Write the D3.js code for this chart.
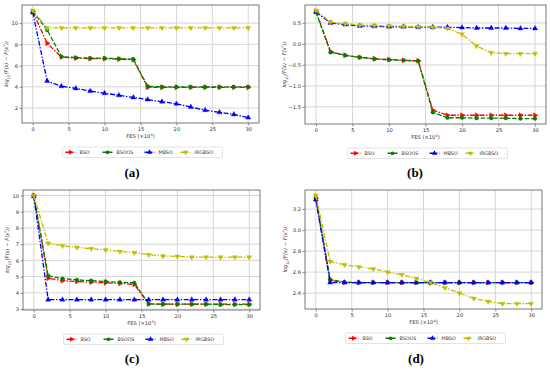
<!DOCTYPE html>
<html><head><meta charset="utf-8">
<script src="https://cdn.jsdelivr.net/npm/d3@7"></script>
<style>body{margin:0;background:#fff}svg{display:block}</style>
</head><body><svg id="c" width="550" height="371"></svg>
<script>
// ---------- data ----------
const fes = [0,2,4,6,8,10,12,14,16,18,20,22,24,26,28,30];
const seriesNames = ["BSO","BSOOS","MBSO","IRGBSO"];
const xTicks = [0,5,10,15,20,25,30];
const captions = ["(a)","(b)","(c)","(d)"];
const xLabelPowers = ["5","5","5","4"];

// panel (a)
const aBSO    = [11.1,8.1,6.8,6.7,6.65,6.65,6.6,6.55,3.95,3.95,3.95,3.95,3.95,3.95,3.95,3.95];
const aBSOOS  = [11.1,9.35,6.85,6.75,6.7,6.7,6.65,6.6,4.05,4.0,4.0,4.0,4.0,4.0,4.0,4.0];
const aMBSO   = [11.0,4.55,4.05,3.85,3.6,3.4,3.2,3.0,2.8,2.6,2.4,2.1,1.8,1.6,1.4,1.1];
const aIRGBSO = [11.2,9.55,9.55,9.55,9.55,9.55,9.55,9.55,9.55,9.55,9.55,9.55,9.55,9.55,9.55,9.55];
const yTicksA = [2,4,6,8,10];

// panel (b)
const bBSO    = [0.78,-0.18,-0.27,-0.32,-0.35,-0.37,-0.39,-0.40,-1.58,-1.70,-1.70,-1.70,-1.70,-1.70,-1.70,-1.70];
const bBSOOS  = [0.76,-0.20,-0.27,-0.32,-0.36,-0.38,-0.39,-0.41,-1.63,-1.76,-1.76,-1.77,-1.77,-1.77,-1.78,-1.78];
const bMBSO   = [0.76,0.50,0.46,0.43,0.42,0.41,0.41,0.40,0.40,0.40,0.39,0.38,0.38,0.38,0.37,0.37];
const bIRGBSO = [0.80,0.52,0.48,0.45,0.44,0.43,0.42,0.41,0.40,0.37,0.23,-0.05,-0.21,-0.23,-0.23,-0.23];
const yTicksB = [-1.5,-1.0,-0.5,0.0,0.5];

// panel (c)
const cBSO    = [10.0,4.9,4.75,4.7,4.65,4.62,4.58,4.52,3.32,3.3,3.3,3.3,3.3,3.3,3.3,3.3];
const cBSOOS  = [10.0,5.05,4.88,4.8,4.75,4.7,4.65,4.62,3.32,3.3,3.3,3.3,3.3,3.28,3.28,3.28];
const cMBSO   = [9.95,3.58,3.58,3.58,3.58,3.58,3.58,3.58,3.58,3.58,3.58,3.58,3.58,3.58,3.58,3.58];
const cIRGBSO = [10.0,7.05,6.9,6.8,6.72,6.65,6.55,6.48,6.35,6.27,6.25,6.2,6.2,6.2,6.2,6.2];
const yTicksC = [3,4,5,6,7,8,9,10];

// panel (d)
const dBSO    = [3.30,2.52,2.50,2.50,2.50,2.50,2.50,2.50,2.50,2.50,2.50,2.50,2.50,2.50,2.50,2.50];
const dBSOOS  = [3.31,2.53,2.505,2.50,2.50,2.50,2.50,2.50,2.50,2.50,2.50,2.50,2.50,2.50,2.50,2.50];
const dMBSO   = [3.29,2.50,2.50,2.50,2.50,2.50,2.50,2.50,2.50,2.50,2.50,2.50,2.50,2.50,2.50,2.50];
const dIRGBSO = [3.33,2.70,2.67,2.65,2.63,2.60,2.575,2.54,2.50,2.45,2.40,2.35,2.32,2.30,2.30,2.30];
const yTicksD = [2.4,2.6,2.8,3.0,3.2];

// ---------- layout / style ----------
const panels = [
  {series:[aBSO,aBSOOS,aMBSO,aIRGBSO], yTicks:yTicksA, fmt:d3.format("d"),  L:22,  R:259, T:5,   B:123, ylx:8,   cap:[132,177]},
  {series:[bBSO,bBSOOS,bMBSO,bIRGBSO], yTicks:yTicksB, fmt:d3.format(".1f"),L:305, R:546, T:5,   B:124, ylx:286, cap:[415,177]},
  {series:[cBSO,cBSOOS,cMBSO,cIRGBSO], yTicks:yTicksC, fmt:d3.format("d"),  L:23,  R:260, T:190, B:310, ylx:9,   cap:[132,363]},
  {series:[dBSO,dBSOOS,dMBSO,dIRGBSO], yTicks:yTicksD, fmt:d3.format(".1f"),L:305, R:542, T:190, B:309, ylx:287, cap:[416,363]}
];
const colors = ["#ff0000","#008000","#0000ff","#bfbf00"];
const dashes = ["5,1.6,1.4,1.6","4.5,1.8","5,1.6,1.4,1.6","5,1.6,1.4,1.6"];
const symbols = [
  {t:d3.symbolTriangle, rot:90,  s:11},
  {t:d3.symbolCircle,   rot:0,   s:11},
  {t:d3.symbolTriangle, rot:0,   s:11},
  {t:d3.symbolTriangle, rot:180, s:11}
];
const legendOffsets = [3,40,82,118];
const FONT = "'DejaVu Sans', sans-serif";

const svg = d3.select("#c");

panels.forEach((p, pi) => {
  const g = svg.append("g");
  const x = d3.scaleLinear().domain([-1.5, 31.5]).range([p.L, p.R]);
  const all = p.series.flat();
  const mn = d3.min(all), mx = d3.max(all), pad = (mx - mn) * 0.05;
  const y = d3.scaleLinear().domain([mn - pad, mx + pad]).range([p.B, p.T]);

  // grid
  g.append("g").selectAll("line.v").data(xTicks).join("line")
    .attr("x1", d => x(d)).attr("x2", d => x(d)).attr("y1", p.T).attr("y2", p.B)
    .attr("stroke", "#d6d6d6").attr("stroke-width", 1);
  g.append("g").selectAll("line.h").data(p.yTicks).join("line")
    .attr("y1", d => y(d)).attr("y2", d => y(d)).attr("x1", p.L).attr("x2", p.R)
    .attr("stroke", "#d6d6d6").attr("stroke-width", 1);

  // axes
  const minus = s => s.replace("-", "\u2212");
  const xa = g.append("g").attr("transform", `translate(0,${p.B})`)
    .call(d3.axisBottom(x).tickValues(xTicks).tickSize(2.5).tickPadding(1.5).tickFormat(d3.format("d")));
  const ya = g.append("g").attr("transform", `translate(${p.L},0)`)
    .call(d3.axisLeft(y).tickValues(p.yTicks).tickSize(2.5).tickPadding(1.5).tickFormat(d => minus(p.fmt(d))));
  [xa, ya].forEach(a => {
    a.select(".domain").remove();
    a.selectAll(".tick line").attr("stroke", "#444").attr("stroke-width", 0.6);
    a.selectAll(".tick text").attr("font-family", FONT).attr("font-size", 5.2).attr("fill", "#333");
  });

  // frame
  g.append("rect").attr("x", p.L).attr("y", p.T).attr("width", p.R - p.L).attr("height", p.B - p.T)
    .attr("fill", "none").attr("stroke", "#555").attr("stroke-width", 0.8);

  // series
  const line = d3.line().x((d, i) => x(fes[i])).y(d => y(d));
  p.series.forEach((vals, si) => {
    g.append("path").datum(vals).attr("d", line).attr("fill", "none")
      .attr("stroke", colors[si]).attr("stroke-width", 1.3).attr("stroke-dasharray", dashes[si]);
    const sym = symbols[si];
    g.append("g").selectAll("path").data(vals).join("path")
      .attr("d", d3.symbol().type(sym.t).size(sym.s))
      .attr("transform", (d, i) => `translate(${x(fes[i])},${y(d)}) rotate(${sym.rot})`)
      .attr("fill", colors[si]).attr("stroke", colors[si]).attr("stroke-width", 0.4);
  });

  // x label
  const cx = (p.L + p.R) / 2;
  const xl = g.append("text").attr("x", cx).attr("y", p.B + 15).attr("text-anchor", "middle")
    .attr("font-family", FONT).attr("font-size", 5.2).attr("fill", "#333");
  xl.append("tspan").text("FES (\u00d710");
  xl.append("tspan").attr("font-size", 3.6).attr("dy", -2).text(xLabelPowers[pi]);
  xl.append("tspan").attr("dy", 2).text(")");

  // y label
  const yl = g.append("text").attr("transform", `translate(${p.ylx},${(p.T + p.B) / 2}) rotate(-90)`)
    .attr("text-anchor", "middle").attr("font-family", FONT).attr("font-size", 5.2)
    .attr("font-style", "italic").attr("fill", "#333");
  yl.append("tspan").text("log");
  yl.append("tspan").attr("font-size", 3.6).attr("dy", 1.5).text("10");
  yl.append("tspan").attr("dy", -1.5).text("(F(x) \u2212 F(x");
  yl.append("tspan").attr("font-size", 3.6).attr("dy", -2).text("*");
  yl.append("tspan").attr("dy", 2).text("))");

  // legend
  const lx = cx - 78, ly = p.B + 24;
  const lg = g.append("g");
  lg.append("rect").attr("x", lx).attr("y", ly).attr("width", 160).attr("height", 10.5).attr("rx", 1.5)
    .attr("fill", "#fff").attr("stroke", "#d0d0d0").attr("stroke-width", 0.6);
  seriesNames.forEach((name, si) => {
    const sx = lx + legendOffsets[si], sy = ly + 5.25;
    lg.append("line").attr("x1", sx).attr("x2", sx + 10).attr("y1", sy).attr("y2", sy)
      .attr("stroke", colors[si]).attr("stroke-width", 1.3).attr("stroke-dasharray", dashes[si]);
    lg.append("path").attr("d", d3.symbol().type(symbols[si].t).size(symbols[si].s))
      .attr("transform", `translate(${sx + 5},${sy}) rotate(${symbols[si].rot})`)
      .attr("fill", colors[si]);
    lg.append("text").attr("x", sx + 14).attr("y", sy + 1.7).attr("font-family", FONT)
      .attr("font-size", 4.8).attr("fill", "#333").text(name);
  });

  // caption
  svg.append("text").attr("x", p.cap[0]).attr("y", p.cap[1]).attr("text-anchor", "middle")
    .attr("font-family", "'Liberation Serif', serif").attr("font-weight", "bold").attr("font-size", 13)
    .attr("fill", "#000").text(captions[pi]);
});
</script></body></html>
